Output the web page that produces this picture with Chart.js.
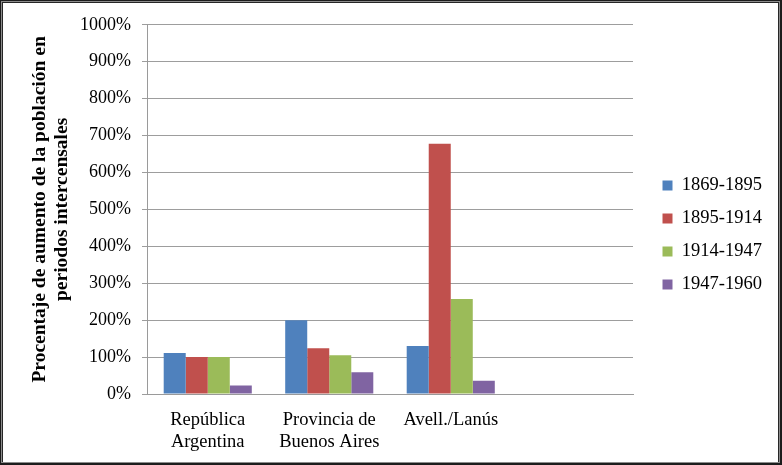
<!DOCTYPE html>
<html>
<head>
<meta charset="utf-8">
<script src="https://cdn.jsdelivr.net/npm/chart.js@4/dist/chart.umd.min.js"></script>
<style>
  html, body { margin: 0; padding: 0; background: #1c1c1c; width: 782px; height: 465px; overflow: hidden; }
  #mid { position: absolute; left: 1px; top: 1px; width: 777px; height: 460px; border: 1px solid #8c8c8c; background: #262626; }
  #wrap { position: absolute; left: 1px; top: 1px; width: 775px; height: 459px; background: #fff; }
  canvas { display: block; }
</style>
</head>
<body>
<div id="mid"><div id="wrap"><canvas id="c" width="775" height="459"></canvas></div></div>
<script>
const categories = [["República", "Argentina"], ["Provincia de", "Buenos Aires"], "Avell./Lanús", ""];
const seriesNames = ["1869-1895", "1895-1914", "1914-1947", "1947-1960"];
const s1869_1895 = [111, 200, 130, null];
const s1895_1914 = [100, 124, 678, null];
const s1914_1947 = [100, 105, 257, null];
const s1947_1960 = [23, 59, 36, null];
const yTicks = [0, 100, 200, 300, 400, 500, 600, 700, 800, 900, 1000];
const colors = ["#4F81BD", "#C0504D", "#9BBB59", "#8064A2"];

const serif = "'Liberation Serif', 'Times New Roman', serif";
const allSeries = [s1869_1895, s1895_1914, s1914_1947, s1947_1960];

const legendPlace = {
  id: 'legendPlace',
  beforeLayout(chart) {
    const lg = chart.legend;
    if (lg && !lg._wrapped) {
      const f = lg.fit;
      lg.fit = function () { f.call(this); this.width = 130; };
      lg._wrapped = true;
    }
  },
  afterLayout(chart) {
    const lg = chart.legend;
    const w = lg.right - lg.left;
    lg.left = 645;
    lg.right = lg.left + w;
    lg.top -= 8;
    lg.bottom -= 8;
  }
};

new Chart(document.getElementById('c'), {
  type: 'bar',
  data: {
    labels: categories,
    datasets: allSeries.map((d, i) => ({
      label: seriesNames[i],
      data: d,
      backgroundColor: colors[i],
      borderWidth: 0,
      categoryPercentage: 0.725,
      barPercentage: 1.0
    }))
  },
  options: {
    responsive: false,
    animation: false,
    devicePixelRatio: 1,
    layout: { padding: { top: 21, right: 15, bottom: 0, left: 0 } },
    plugins: {
      legend: {
        position: 'right',
        labels: {
          boxWidth: 10,
          boxHeight: 10,
          padding: 14.5,
          color: '#000',
          font: { family: serif, size: 18.5 }
        }
      },
      tooltip: { enabled: false }
    },
    scales: {
      x: {
        grid: { display: false },
        border: { display: true, color: '#9a9a9a', width: 1 },
        ticks: {
          color: '#000',
          padding: 7,
          maxRotation: 0,
          autoSkip: false,
          font: { family: serif, size: 18.5, lineHeight: 1.19 }
        },
        afterFit(scale) { scale.height = 68; }
      },
      y: {
        min: 0,
        max: 1000,
        afterBuildTicks(scale) { scale.ticks = yTicks.map(v => ({ value: v })); },
        grid: { color: '#9d9d9d', lineWidth: 1, drawTicks: true, tickLength: 5, tickColor: '#9d9d9d' },
        border: { display: true, color: '#9a9a9a', width: 1 },
        ticks: {
          color: '#000',
          padding: 11,
          font: { family: serif, size: 18 },
          callback: v => v + '%'
        },
        title: {
          display: true,
          text: ['Procentaje de aumento de la población en', 'periodos intercensales'],
          color: '#000',
          font: { family: serif, size: 19.5, weight: 'bold', lineHeight: 1.13 },
          padding: { top: 26, bottom: 0 }
        },
        afterFit(scale) { scale.width = 144; }
      }
    }
  },
  plugins: [legendPlace]
});
</script>
</body>
</html>
